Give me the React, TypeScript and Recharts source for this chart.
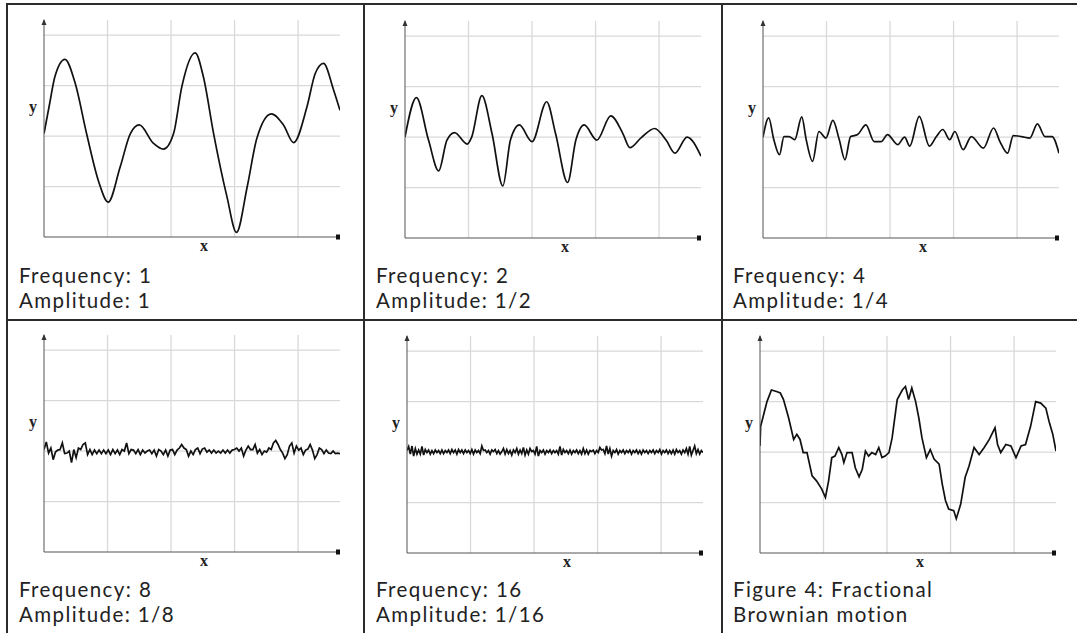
import React from "react";
import { LineChart, Line, XAxis, YAxis, ReferenceLine, ReferenceDot } from "recharts";

// shared axis extent (grid units)
const X_MAX = 4.66;
const Y_MAX = 4.3;
const xTicks = [1, 2, 3, 4];
const yTicks = [1, 2, 3, 4];

// Frequency 1, amplitude 1
const f1X = [0, 0.09, 0.17, 0.33, 0.49, 0.67, 0.86, 1.01, 1.2, 1.36, 1.5, 1.72, 1.88, 2.04, 2.17, 2.38, 2.51, 2.67, 2.88, 3.03, 3.2, 3.35, 3.58, 3.77, 3.93, 4.14, 4.27, 4.4, 4.56, 4.66];
const f1Y = [2.05, 2.65, 3.17, 3.52, 3.05, 2.05, 1.1, 0.69, 1.39, 2.05, 2.22, 1.86, 1.74, 2.05, 2.98, 3.65, 3.17, 2.05, 0.8, 0.09, 1.0, 1.95, 2.44, 2.22, 1.87, 2.58, 3.24, 3.44, 2.91, 2.51];

// Frequency 2, amplitude 1/2
const f2X = [0, 0.18, 0.37, 0.53, 0.66, 0.78, 0.98, 1.05, 1.21, 1.37, 1.54, 1.66, 1.8, 2.0, 2.23, 2.37, 2.56, 2.69, 2.82, 3.02, 3.24, 3.43, 3.54, 3.72, 3.93, 4.11, 4.25, 4.44, 4.66];
const f2Y = [2.0, 2.78, 1.94, 1.33, 1.94, 2.09, 1.86, 2.0, 2.82, 2.07, 1.03, 1.94, 2.24, 1.91, 2.7, 2.07, 1.1, 1.94, 2.24, 1.94, 2.42, 2.07, 1.79, 1.99, 2.17, 1.94, 1.68, 2.0, 1.62];

// Frequency 4, amplitude 1/4
const f3X = [0, 0.09, 0.17, 0.26, 0.33, 0.41, 0.5, 0.61, 0.68, 0.78, 0.88, 0.99, 1.1, 1.2, 1.29, 1.38, 1.49, 1.62, 1.75, 1.86, 1.96, 2.12, 2.23, 2.31, 2.46, 2.62, 2.73, 2.83, 2.94, 3.02, 3.15, 3.28, 3.47, 3.63, 3.73, 3.85, 3.94, 4.07, 4.2, 4.32, 4.44, 4.55, 4.66];
const f3Y = [2.0, 2.38, 1.95, 1.65, 2.01, 2.01, 1.95, 2.4, 1.95, 1.52, 2.11, 1.98, 2.33, 1.95, 1.55, 2.01, 2.05, 2.24, 1.91, 1.91, 2.05, 1.85, 2.0, 1.82, 2.41, 1.82, 2.01, 2.15, 1.95, 2.11, 1.75, 2.01, 1.78, 2.18, 1.91, 1.68, 2.03, 2.01, 1.98, 2.26, 2.01, 2.01, 1.68];

// Frequency 8, amplitude 1/8 (evenly spaced samples)
const f4Y = [
  2.03, 2.18, 1.96, 2.06, 1.83, 1.98, 2.02, 2.03, 2.16, 1.95, 1.96, 2.0, 1.77, 2.03, 1.87, 2.06, 2.03, 2.13, 2.16, 1.93,
  2.03, 1.93, 2.02, 1.95, 2.02, 1.95, 2.02, 1.95, 2.02, 1.93, 2.03, 1.95, 2.02, 1.93, 2.03, 2.0, 2.16, 1.95, 2.03, 2.02,
  1.95, 2.03, 1.93, 2.02, 1.96, 2.0, 2.02, 1.95, 2.02, 1.9, 2.03, 2.0, 1.93, 2.02, 1.9, 2.02, 2.03, 1.93, 2.02, 2.06,
  2.13, 2.06, 2.03, 1.9, 2.0, 1.93, 2.03, 2.06, 1.95, 2.04, 2.06, 1.98, 2.02, 1.96, 2.02, 1.96, 2.0, 1.96, 2.02, 1.96,
  2.02, 1.96, 2.02, 2.03, 2.06, 2.0, 2.06, 1.9, 2.02, 2.1, 2.03, 2.03, 2.13, 1.96, 2.03, 1.93, 2.0, 1.98, 2.06, 2.03,
  2.16, 2.21, 2.13, 2.03, 1.96, 1.85, 1.93, 2.1, 2.16, 1.96, 2.1, 2.02, 2.06, 1.93, 2.02, 2.04, 2.13, 2.02, 1.85, 1.93,
  2.06, 2.03, 1.95, 2.02, 1.96, 1.95, 2.0, 1.95, 1.96, 1.95,
];

// Frequency 16, amplitude 1/16 (evenly spaced samples)
const f5Y = [
  2.03, 2.11, 1.96, 2.12, 1.92, 2.07, 1.96, 2.04, 1.96, 2.11, 1.94, 2.05, 1.99, 2.04, 1.96, 2.03, 1.97, 2.04, 1.99, 2.03,
  1.97, 2.04, 1.97, 2.03, 1.99, 2.04, 1.97, 2.05, 1.99, 2.04, 1.96, 2.05, 1.99, 2.04, 1.97, 2.04, 1.99, 2.03, 1.97, 2.05,
  1.96, 2.04, 1.99, 2.03, 1.97, 2.12, 2.03, 2.04, 1.99, 2.03, 1.96, 2.04, 2.01, 2.05, 1.97, 2.03, 1.96, 2.01, 2.07, 1.96,
  2.05, 1.97, 2.03, 1.94, 2.04, 1.99, 2.07, 1.96, 2.04, 1.97, 2.09, 1.94, 2.04, 1.96, 2.07, 2.01, 2.03, 1.96, 2.11, 1.92,
  2.03, 1.99, 2.04, 1.96, 2.03, 1.99, 2.04, 1.97, 2.03,
  1.99, 2.03, 1.96, 2.11, 1.94, 2.05, 1.99, 2.03, 1.97, 2.04, 1.96, 2.03, 1.99, 2.04, 1.97, 2.03, 1.96, 2.07, 1.97, 2.04,
  1.96, 2.03, 2.01, 2.04, 1.97, 2.03, 1.99, 2.09, 2.04, 2.05, 1.97, 2.12, 1.96, 2.07, 1.92, 2.03, 1.99, 2.05, 1.96, 2.03,
  1.99, 2.04, 1.97, 2.03, 1.99, 2.04, 1.96, 2.03, 1.99, 2.04, 1.97, 2.03, 1.96, 2.04, 1.99, 2.03, 1.97, 2.03, 1.99, 2.04,
  1.97, 2.03, 1.99, 2.05, 1.96, 2.03, 1.99, 2.04, 1.97, 2.03, 1.97, 2.04, 1.96, 2.05, 1.99, 2.03, 1.96, 2.04, 1.99, 2.07,
  1.96, 2.11, 1.94, 2.03, 2.12, 1.97, 2.05, 1.96, 2.03, 1.99,
];

// Fractional Brownian motion (sum)
const f6X = [0, 0.01, 0.11, 0.18, 0.26, 0.32, 0.37, 0.45, 0.53, 0.58, 0.63, 0.68, 0.74, 0.82, 0.89, 0.97, 1.03, 1.08, 1.13, 1.18, 1.24, 1.29, 1.32, 1.37, 1.45, 1.5, 1.56, 1.61, 1.66, 1.71, 1.76, 1.82, 1.87, 1.92, 1.97, 2.03, 2.08, 2.16, 2.24, 2.29, 2.34, 2.39, 2.45, 2.5, 2.55, 2.62, 2.68, 2.74, 2.82, 2.87, 2.92, 2.97, 3.05, 3.09, 3.16, 3.23, 3.29, 3.37, 3.45, 3.53, 3.61, 3.66, 3.7, 3.74, 3.79, 3.87, 3.95, 4.03, 4.11, 4.18, 4.26, 4.34, 4.42, 4.5, 4.55, 4.61, 4.66];
const f6Y = [2.12, 2.51, 3.0, 3.23, 3.2, 3.17, 3.04, 2.68, 2.25, 2.35, 2.25, 1.99, 1.99, 1.53, 1.43, 1.27, 1.1, 1.43, 1.89, 1.92, 2.09, 1.95, 1.79, 1.99, 1.99, 1.69, 1.51, 1.66, 2.02, 1.92, 1.99, 1.95, 2.09, 1.89, 1.92, 1.99, 2.28, 3.04, 3.23, 3.3, 3.04, 3.27, 3.0, 2.68, 2.28, 1.89, 2.05, 1.86, 1.76, 1.36, 1.04, 0.87, 0.84, 0.68, 0.97, 1.5, 1.72, 2.09, 1.95, 2.09, 2.25, 2.38, 2.48, 2.15, 1.99, 2.15, 2.12, 1.89, 2.12, 2.15, 2.51, 3.0, 2.97, 2.87, 2.61, 2.35, 2.02];

const captions = [
  ["Frequency: 1", "Amplitude: 1"],
  ["Frequency: 2", "Amplitude: 1/2"],
  ["Frequency: 4", "Amplitude: 1/4"],
  ["Frequency: 8", "Amplitude: 1/8"],
  ["Frequency: 16", "Amplitude: 1/16"],
  ["Figure 4: Fractional", "Brownian motion"],
];

const pairs = (xs: number[], ys: number[]) => xs.map((x, i) => ({ x, y: ys[i] }));
const evenly = (ys: number[]) => ys.map((y, i) => ({ x: (i * X_MAX) / (ys.length - 1), y }));

const PLOT_W = 296;
const PLOT_H = 217;
const AXIS_W = 22;
const AXIS_H = 26;
const M_TOP = 6;
const M_RIGHT = 8;

const GRID = "#d9d9d9";
const labelFont = { fill: "#222", fontFamily: "Liberation Serif", fontWeight: 700, fontSize: 16 };

const ArrowHead = (p: any) => (
  <path d={`M${p.cx - 2.5},${p.cy + 5} L${p.cx},${p.cy - 1} L${p.cx + 2.5},${p.cy + 5} Z`} fill="#333" />
);
const EndMark = (p: any) => <rect x={p.cx - 4} y={p.cy - 2.5} width={4} height={5} fill="#111" />;

type PanelProps = { data: { x: number; y: number }[]; left: number; top: number; curve: "monotone" | "linear" };

const Panel = ({ data, left, top, curve }: PanelProps) => (
  <div style={{ position: "absolute", left: left - AXIS_W, top: top - M_TOP }}>
    <LineChart
      width={PLOT_W + AXIS_W + M_RIGHT}
      height={PLOT_H + M_TOP + AXIS_H}
      data={data}
      margin={{ top: M_TOP, right: M_RIGHT, left: 0, bottom: 0 }}
    >
      <XAxis
        type="number"
        dataKey="x"
        domain={[0, X_MAX]}
        ticks={xTicks}
        allowDataOverflow
        tick={false}
        tickSize={2}
        height={AXIS_H}
        stroke="#555"
        label={{ value: "x", position: "insideTop", offset: 3, dx: 12, ...labelFont }}
      />
      <YAxis
        type="number"
        domain={[0, Y_MAX]}
        ticks={yTicks}
        allowDataOverflow
        tick={false}
        tickSize={2}
        width={AXIS_W}
        stroke="#555"
        label={{ value: "y", position: "center", dy: -22, ...labelFont }}
      />
      {xTicks.map((t) => (
        <ReferenceLine key={`vx${t}`} x={t} stroke={GRID} strokeWidth={1.3} />
      ))}
      {yTicks.map((t) => (
        <ReferenceLine key={`hy${t}`} y={t} stroke={GRID} strokeWidth={1.3} />
      ))}
      <ReferenceDot x={0} y={Y_MAX} r={3} shape={ArrowHead} ifOverflow="visible" />
      <ReferenceDot x={X_MAX} y={0} r={3} shape={EndMark} ifOverflow="visible" />
      <Line
        type={curve}
        dataKey="y"
        stroke="#111"
        strokeWidth={1.7}
        dot={false}
        isAnimationActive={false}
      />
    </LineChart>
  </div>
);

const Caption = ({ lines, left, top }: { lines: string[]; left: number; top: number }) => (
  <div
    style={{
      position: "absolute",
      left,
      top,
      fontFamily: "Lato, sans-serif",
      fontSize: 20.5,
      letterSpacing: 1.4,
      lineHeight: "25px",
      color: "#222",
      whiteSpace: "nowrap",
    }}
  >
    {lines.map((l) => (
      <div key={l}>{l}</div>
    ))}
  </div>
);

const rule = (left: number, top: number, width: number, height: number) => (
  <div style={{ position: "absolute", left, top, width, height, background: "#2b2b2b" }} />
);

export default function App() {
  return (
    <div
      style={{
        position: "absolute",
        left: 0,
        top: 0,
        width: 1077,
        height: 633,
        background: "#fff",
        overflow: "hidden",
      }}
    >
      {rule(6, 3, 1071, 2)}
      {rule(6, 3, 2, 630)}
      {rule(363, 3, 2, 630)}
      {rule(721, 3, 2, 630)}
      {rule(6, 318.5, 1071, 2)}

      <Panel data={pairs(f1X, f1Y)} left={44} top={20} curve="monotone" />
      <Panel data={pairs(f2X, f2Y)} left={405} top={21} curve="monotone" />
      <Panel data={pairs(f3X, f3Y)} left={763} top={21} curve="monotone" />
      <Panel data={evenly(f4Y)} left={44} top={335} curve="linear" />
      <Panel data={evenly(f5Y)} left={407} top={336} curve="linear" />
      <Panel data={pairs(f6X, f6Y)} left={760} top={336} curve="linear" />

      <Caption lines={captions[0]} left={19} top={263} />
      <Caption lines={captions[1]} left={376} top={263} />
      <Caption lines={captions[2]} left={733} top={263} />
      <Caption lines={captions[3]} left={19} top={577} />
      <Caption lines={captions[4]} left={376} top={577} />
      <Caption lines={captions[5]} left={733} top={577} />
    </div>
  );
}
